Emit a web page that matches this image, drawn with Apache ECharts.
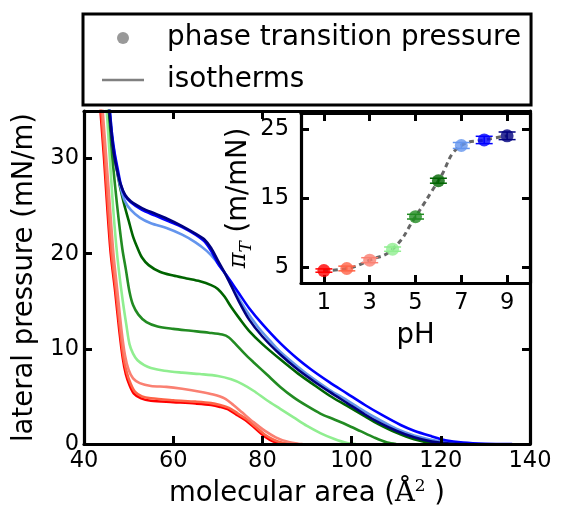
<!DOCTYPE html>
<html>
<head>
<meta charset="utf-8">
<script src="https://cdn.jsdelivr.net/npm/echarts@6/dist/echarts.min.js"></script>
<style>html,body{margin:0;padding:0;background:#fff}#c{width:561px;height:508px}</style>
</head>
<body>
<div id="c"></div>
<script>
// ---------- data ----------
const pHValues = [1, 2, 3, 4, 5, 6, 7, 8, 9];
const transitionPressure = [4.5, 4.8, 6.0, 7.6, 12.3, 17.5, 22.6, 23.4, 24.0];
const pressureErr = [0.24, 0.34, 0.36, 0.31, 0.34, 0.36, 0.43, 0.53, 0.55];
const pHColors = ['#ff0000', '#ff6347', '#fa8072', '#90ee90', '#228b22', '#006400', '#6495ed', '#0000ff', '#000080'];

const xTicksMain = [40, 60, 80, 100, 120, 140];
const yTicksMain = [0, 10, 20, 30];
const xTicksInset = [1, 3, 5, 7, 9];
const yTicksInset = [5, 15, 25];

// isotherms: [molecular area (Å²), lateral pressure (mN/m)]
const isoPH1 = [[43.4,37],[43.7,35],[44.5,30],[45.2,25],[46,20],[47,16],[47.9,12],[48.7,9],[49.4,7.3],[50.2,6.2],[51.2,5.3],[52.8,4.8],[55,4.55],[60,4.4],[65,4.25],[68.5,4.1],[70.5,3.9],[72.5,3.6],[74.5,3.0],[76.5,2.4],[78.5,1.6],[80.5,0.8],[82.5,0.25],[84.5,0]];
const isoPH2 = [[43.6,37],[43.9,35],[44.7,30],[45.4,25],[46.2,20],[47.2,16],[48.1,12],[48.9,9],[49.6,7.5],[50.4,6.4],[51.4,5.5],[53,5.0],[55,4.8],[60,4.6],[65,4.45],[68.5,4.3],[70.5,4.1],[72.5,3.8],[74.5,3.2],[76.5,2.6],[78.5,1.8],[80.5,1.0],[82.5,0.45],[84.5,0.12],[86.5,0]];
const isoPH3 = [[43.9,37],[44.2,35],[45.0,30],[45.8,25],[46.6,20],[47.5,16],[48.4,12],[49.2,9.3],[50,7.8],[51,6.9],[52.5,6.4],[55,6.1],[58.5,6.0],[62,5.8],[66,5.5],[69,5.2],[71.5,4.8],[73.5,4.1],[75.5,3.3],[78,2.3],[80.5,1.4],[83,0.7],[85.5,0.25],[88,0.03],[89,0]];
const isoPH4 = [[44.8,37],[45.1,35],[45.8,30],[46.5,25],[47.2,21],[47.8,18.3],[48.7,15],[49.5,12.5],[50.2,10.5],[51,9.5],[52,8.8],[53.5,8.3],[55,8.0],[58,7.7],[62,7.5],[66,7.35],[70,7.15],[73,6.8],[75.5,6.3],[78,5.6],[81,4.6],[84,3.7],[87,2.8],[90,1.9],[93,1.15],[96,0.55],[99,0.1],[101,0]];
const isoPH5 = [[45.3,37],[45.6,35],[46.2,31],[47.0,27],[47.8,23.5],[48.6,20.5],[49.4,18.3],[50.2,16],[51,14.6],[52.2,13.6],[54,12.8],[56.5,12.35],[60,12.1],[64,11.9],[68,11.7],[71,11.5],[72.5,11.2],[74,10.5],[76,9.5],[78,8.6],[81,7.3],[84,6.0],[87,4.9],[90,4.0],[93,3.2],[96,2.6],[99,2.0],[102,1.35],[105,0.7],[108,0.15],[110,0]];
const isoPH6 = [[45.3,37],[45.6,35],[46.3,32],[47.1,29.5],[48,27.2],[49,25.2],[50,23.5],[51,21.8],[52,20.6],[53,19.6],[54.5,18.8],[57,18.1],[60,17.7],[63,17.4],[66,17.1],[68.5,16.7],[70,16.3],[71.5,15.5],[73,14.4],[75,13.1],[77,11.9],[80,10.5],[84,8.9],[88,7.4],[91,6.4],[95,5.1],[99,4.0],[103,2.9],[106,2.1],[110,1.2],[114,0.5],[118,0.1],[121,0]];
const isoPH7 = [[45.5,37],[45.8,35],[46.4,32],[47,30],[47.6,28.3],[48.3,26.8],[49.2,25.5],[50.5,24.6],[52.5,23.8],[55,23.2],[58.5,22.7],[62,22.0],[65,21.2],[67.5,20.3],[69.5,19.3],[71.5,18],[73.5,16.3],[76,14.3],[79,12.3],[82,10.7],[84,9.7],[88,8.1],[91,7.0],[95,5.7],[99,4.6],[103,3.4],[106,2.6],[110,1.6],[114,0.9],[120,0.25],[124,0.05],[127,0]];
const isoPH8 = [[45.5,37],[45.8,35],[46.3,32.5],[46.9,30.5],[47.6,28.8],[48.3,27.2],[49.2,26.1],[50.5,25.4],[53,24.6],[56,24.0],[59,23.4],[62,22.8],[65,22.0],[67,21.3],[68.5,20.3],[70,19],[72,17.7],[74.5,16.0],[77,14.3],[80,12.6],[84,10.6],[88,8.9],[91,7.8],[95,6.5],[99,5.3],[103,4.1],[107,3.0],[111,2.0],[114,1.4],[118,0.8],[121,0.4],[125,0.15],[130,0.03],[136,0]];
const isoPH9 = [[45.4,37],[45.7,35],[46.2,32.5],[46.7,30.5],[47.4,28.8],[48.2,27.3],[49.2,26.2],[50.5,25.5],[53,24.8],[56,24.2],[59,23.6],[62,22.9],[65,22.1],[67,21.5],[68.5,20.6],[70,19.3],[72,17.6],[74.5,15.2],[77,13.1],[80,11.3],[84,9.4],[88,7.8],[91.5,6.6],[95,5.5],[99,4.3],[103,3.1],[106,2.3],[110,1.4],[114,0.7],[118,0.25],[122,0.05],[126,0]];
const isotherms = [isoPH1, isoPH2, isoPH3, isoPH4, isoPH5, isoPH6, isoPH7, isoPH8, isoPH9];

// ---------- chart ----------
const FONT = 'DejaVu Sans';
const TICK_FS = 22.5;
const NAME_FS = 27.5;
const chart = echarts.init(document.getElementById('c'), null, {renderer: 'canvas'});

function mkAxis(base, opts) { return Object.assign({}, base, opts); }

const tickStyle = {show: true, inside: true, length: 8, lineStyle: {color: '#000', width: 3}};
const lineStyleAxis = {show: true, onZero: false, lineStyle: {color: '#000', width: 3.2}};

const mainX = {type: 'value', gridIndex: 0, min: 40, max: 140, interval: 20, z: 3,
  splitLine: {show: false}, axisLine: lineStyleAxis,
  axisTick: Object.assign({}, tickStyle, {customValues: xTicksMain})};
const mainY = {type: 'value', gridIndex: 0, min: 0, max: 35, interval: 10, z: 3,
  splitLine: {show: false}, axisLine: lineStyleAxis,
  axisTick: Object.assign({}, tickStyle, {customValues: yTicksMain})};
const insetX = {type: 'value', gridIndex: 1, min: 0, max: 10, z: 11,
  splitLine: {show: false}, axisLine: lineStyleAxis,
  axisTick: Object.assign({}, tickStyle, {customValues: xTicksInset})};
const insetY = {type: 'value', gridIndex: 1, min: 2.7, max: 27.3, z: 11,
  splitLine: {show: false}, axisLine: lineStyleAxis,
  axisTick: Object.assign({}, tickStyle, {customValues: yTicksInset})};

const option = {
  backgroundColor: '#fff',
  animation: false,
  textStyle: {fontFamily: FONT},
  legend: {
    orient: 'vertical', left: 83, top: 14,
    padding: [10, 10, 11, 19], itemGap: 14,
    itemWidth: 42, itemHeight: 12,
    borderColor: '#000', borderWidth: 3, backgroundColor: '#fff',
    selectedMode: false,
    textStyle: {fontFamily: FONT, fontSize: 27.8, color: '#000', padding: [0, 0, 0, 18]},
    data: [
      {name: 'phase transition pressure', icon: 'circle', itemStyle: {color: '#808080'}},
      {name: 'isotherms', icon: 'path://M0,0 L42,0 L42,2.5 L0,2.5 Z', itemStyle: {color: '#808080'}}
    ]
  },
  grid: [
    {left: 84, top: 111, width: 446, height: 333, containLabel: false, outerBoundsMode: 'none'},
    {left: 301, top: 113, width: 229, height: 170, show: true, backgroundColor: '#fff', borderWidth: 0, z: 10, containLabel: false, outerBoundsMode: 'none'}
  ],
  xAxis: [
    mkAxis(mainX, {position: 'bottom',
      axisLabel: {show: true, margin: 6, color: '#000', fontSize: TICK_FS, fontFamily: FONT, customValues: xTicksMain},
      name: 'molecular area ({a|Å}{s|2} )', nameLocation: 'middle', nameGap: 33,
      nameTextStyle: {fontSize: NAME_FS, fontFamily: FONT, color: '#000', lineHeight: 32,
        rich: {a: {fontSize: NAME_FS, fontFamily: 'DejaVu Serif', color: '#000', lineHeight: 32},
               s: {fontSize: 17, fontFamily: 'DejaVu Serif', color: '#000', verticalAlign: 'top', lineHeight: 32}}}}),
    mkAxis(mainX, {position: 'top', axisLabel: {show: false}}),
    mkAxis(insetX, {position: 'bottom',
      axisLabel: {show: true, margin: 9, color: '#000', fontSize: TICK_FS, fontFamily: FONT, customValues: xTicksInset},
      name: 'pH', nameLocation: 'middle', nameGap: 39,
      nameTextStyle: {fontSize: NAME_FS, fontFamily: FONT, color: '#000'}}),
    mkAxis(insetX, {position: 'top', axisLabel: {show: false}})
  ],
  yAxis: [
    mkAxis(mainY, {position: 'left',
      axisLabel: {show: true, margin: 5, color: '#000', fontSize: TICK_FS, fontFamily: FONT, customValues: yTicksMain},
      name: 'lateral pressure (mN/m)', nameLocation: 'middle', nameGap: 45, nameRotate: 90,
      nameTextStyle: {fontSize: NAME_FS, fontFamily: FONT, color: '#000'}}),
    mkAxis(mainY, {position: 'right', axisLabel: {show: false}}),
    mkAxis(insetY, {position: 'left',
      axisLabel: {show: true, margin: 12, color: '#000', fontSize: TICK_FS, fontFamily: FONT, customValues: yTicksInset},
      name: '{p|π}{t|T} (m/mN)', nameLocation: 'middle', nameGap: 46, nameRotate: 90,
      nameTextStyle: {fontSize: NAME_FS, fontFamily: FONT, color: '#000', lineHeight: 32,
        rich: {p: {fontSize: 24, fontFamily: 'DejaVu Serif', fontStyle: 'italic', color: '#000', lineHeight: 32},
               t: {fontSize: 17, fontFamily: 'DejaVu Serif', fontStyle: 'italic', color: '#000', verticalAlign: 'bottom', lineHeight: 32}}}}),
    mkAxis(insetY, {position: 'right', axisLabel: {show: false}})
  ],
  series: []
};

// isotherm curves
isotherms.forEach((d, i) => {
  option.series.push({
    name: 'isotherms', type: 'line', xAxisIndex: 0, yAxisIndex: 0,
    data: d, showSymbol: false, symbol: 'none', smooth: 0.3, clip: true, z: 2,
    lineStyle: {color: pHColors[i], width: 2.6}, itemStyle: {color: pHColors[i]}
  });
});

// dashed guide line through transition pressures
option.series.push({
  name: 'fit', type: 'line', xAxisIndex: 2, yAxisIndex: 2, z: 12,
  data: pHValues.map((p, i) => [p, transitionPressure[i]]),
  showSymbol: false, symbol: 'none', smooth: 0.5,
  lineStyle: {color: '#666666', width: 3, type: [5, 4]}
});

// vertical error bars with caps
const CAP_HALF = 8.5;
option.series.push({
  name: 'errors', type: 'custom', xAxisIndex: 2, yAxisIndex: 2, z: 13,
  data: pHValues.map((p, i) => [p, transitionPressure[i], pressureErr[i], i]),
  renderItem: function (params, api) {
    const x = api.value(0), y = api.value(1), ey = api.value(2), k = api.value(3);
    const col = pHColors[k];
    const t = api.coord([x, y + ey]), b = api.coord([x, y - ey]);
    const st = {stroke: col, lineWidth: 1.5};
    return {type: 'group', children: [
      {type: 'line', shape: {x1: t[0], y1: t[1], x2: b[0], y2: b[1]}, style: st},
      {type: 'line', shape: {x1: t[0] - CAP_HALF, y1: t[1], x2: t[0] + CAP_HALF, y2: t[1]}, style: st},
      {type: 'line', shape: {x1: b[0] - CAP_HALF, y1: b[1], x2: b[0] + CAP_HALF, y2: b[1]}, style: st}
    ]};
  }
});

// transition pressure points
option.series.push({
  name: 'phase transition pressure', type: 'scatter', xAxisIndex: 2, yAxisIndex: 2, z: 14,
  symbol: 'circle', symbolSize: 13,
  itemStyle: {color: '#808080'},
  data: pHValues.map((p, i) => ({value: [p, transitionPressure[i]], itemStyle: {color: pHColors[i]}}))
});

chart.setOption(option);
</script>
</body>
</html>
